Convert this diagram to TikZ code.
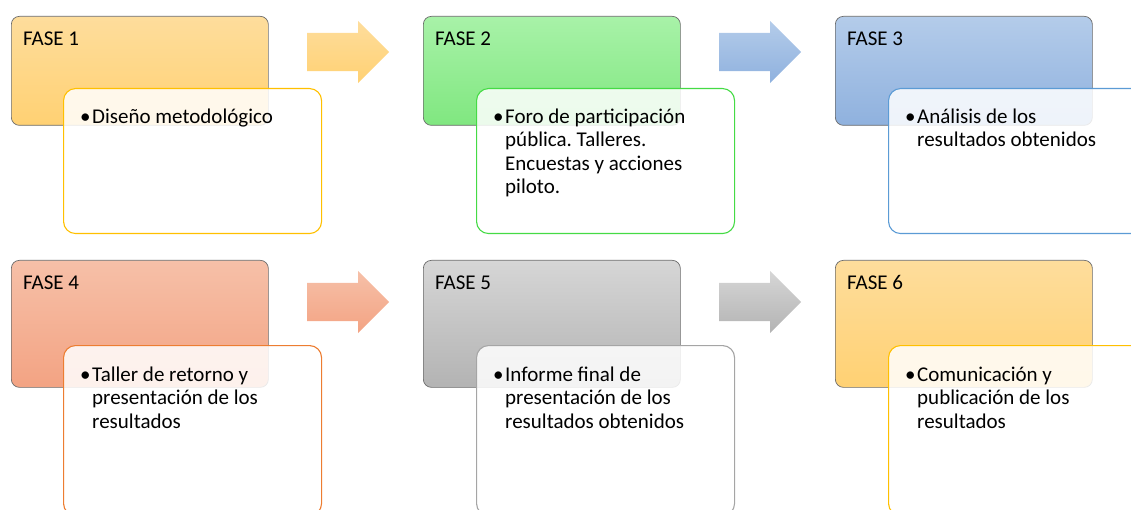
\documentclass[tikz,border=0pt]{standalone}
\usepackage{fontspec}
\setmainfont{Carlito}
\usetikzlibrary{shapes.arrows}
\frenchspacing

% colores de las fases
\definecolor{oroclaro}{HTML}{FEDD9C}
\definecolor{oro}{HTML}{FFD173}
\definecolor{orolinea}{HTML}{FFC000}
\definecolor{verdeclaro}{HTML}{A8F2A8}
\definecolor{verde}{HTML}{80E780}
\definecolor{verdelinea}{HTML}{45DB45}
\definecolor{azulclaro}{HTML}{B4CCEA}
\definecolor{azul}{HTML}{8FB1DE}
\definecolor{azullinea}{HTML}{5B9BD5}
\definecolor{salmonclaro}{HTML}{F6C0A8}
\definecolor{salmon}{HTML}{F3A383}
\definecolor{salmonlinea}{HTML}{ED7D31}
\definecolor{grisclaro}{HTML}{D6D6D6}
\definecolor{gris}{HTML}{B3B3B3}
\definecolor{grislinea}{HTML}{A5A5A5}
\definecolor{borde}{HTML}{6B6B6B}

% vineta con puntal fijo de 20pt sobre la linea base
\newcommand{\vineta}{\rule{0pt}{20pt}\llap{\makebox[12pt][l]{•}}}

\begin{document}
\begin{tikzpicture}[
    x=1pt,y=-1pt,
    fase/.style={rectangle,draw=borde,line width=0.7pt,rounded corners=8pt,anchor=north west,minimum width=257pt,inner sep=0pt},
    detalle/.style={rectangle,line width=1.1pt,rounded corners=12pt,anchor=north west,minimum width=258pt,fill=white,fill opacity=0.85,inner sep=0pt},
    titulo/.style={anchor=base west,inner sep=0pt,font=\fontsize{21pt}{23.5pt}\selectfont},
    texto/.style={anchor=north west,inner sep=0pt,align=left,font=\fontsize{21pt}{23.5pt}\selectfont},
    flecha/.style={single arrow,single arrow head extend=12pt,minimum height=82pt,minimum width=62pt,inner xsep=0pt,inner ysep=19pt,anchor=tail}
]
    \clip (0,0) rectangle (1131,510);

    % Fila 1: fases 1 a 3
    \node[fase,minimum height=109pt,top color=oroclaro,bottom color=oro] (fase1) at (11,16) {};
    \node[fase,minimum height=109pt,top color=verdeclaro,bottom color=verde] (fase2) at (423,16) {};
    \node[fase,minimum height=109pt,top color=azulclaro,bottom color=azul] (fase3) at (835,16) {};
    \node[titulo] (t1) at ([xshift=12pt,yshift=-30pt]fase1.north west) {FASE 1};
    \node[titulo] (t2) at ([xshift=12pt,yshift=-30pt]fase2.north west) {FASE 2};
    \node[titulo] (t3) at ([xshift=12pt,yshift=-30pt]fase3.north west) {FASE 3};

    \node[detalle,minimum height=145pt,draw=orolinea] (d1) at (63,88) {};
    \node[detalle,minimum height=145pt,draw=verdelinea] (d2) at (476,88) {};
    \node[detalle,minimum height=145pt,draw=azullinea] (d3) at (888,88) {};
    \node[texto] (x1) at ([xshift=29pt,yshift=-15pt]d1.north west) {\vineta Diseño metodológico};
    \node[texto] (x2) at ([xshift=29pt,yshift=-15pt]d2.north west) {\vineta Foro de participación\\pública. Talleres.\\Encuestas y acciones\\piloto.};
    \node[texto] (x3) at ([xshift=29pt,yshift=-15pt]d3.north west) {\vineta Análisis de los\\resultados obtenidos};

    % Fila 2: fases 4 a 6
    \node[fase,minimum height=127pt,top color=salmonclaro,bottom color=salmon] (fase4) at (11,260) {};
    \node[fase,minimum height=127pt,top color=grisclaro,bottom color=gris] (fase5) at (423,260) {};
    \node[fase,minimum height=127pt,top color=oroclaro,bottom color=oro] (fase6) at (835,260) {};
    \node[titulo] (t4) at ([xshift=12pt,yshift=-30pt]fase4.north west) {FASE 4};
    \node[titulo] (t5) at ([xshift=12pt,yshift=-30pt]fase5.north west) {FASE 5};
    \node[titulo] (t6) at ([xshift=12pt,yshift=-30pt]fase6.north west) {FASE 6};

    \node[detalle,minimum height=170pt,draw=salmonlinea] (d4) at (63,345) {};
    \node[detalle,minimum height=170pt,draw=grislinea] (d5) at (476,345) {};
    \node[detalle,minimum height=170pt,draw=orolinea] (d6) at (888,345) {};
    \node[texto] (x4) at ([xshift=29pt,yshift=-16pt]d4.north west) {\vineta Taller de retorno y\\presentación de los\\resultados};
    \node[texto] (x5) at ([xshift=29pt,yshift=-16pt]d5.north west) {\vineta Informe final de\\presentación de los\\resultados obtenidos};
    \node[texto] (x6) at ([xshift=29pt,yshift=-16pt]d6.north west) {\vineta Comunicación y\\publicación de los\\resultados};

    % Flechas
    \node[flecha,top color=oroclaro,bottom color=oro] (f12) at (307,52) {};
    \node[flecha,top color=azulclaro,bottom color=azul] (f23) at (719,52) {};
    \node[flecha,top color=salmonclaro,bottom color=salmon] (f45) at (307,302) {};
    \node[flecha,top color=grisclaro,bottom color=gris] (f56) at (719,302) {};
\end{tikzpicture}
\end{document}
